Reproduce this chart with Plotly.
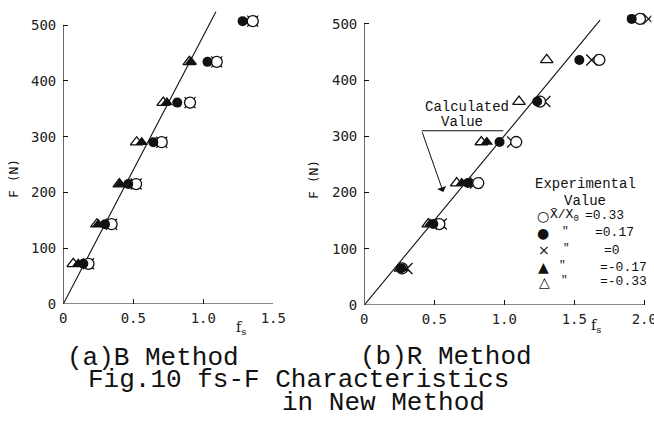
import plotly.graph_objects as go

# ---------------- data ----------------
# (a) B Method
F_B = [72, 143, 215, 290, 361, 434, 507]
B_p033 = [0.18, 0.345, 0.52, 0.703, 0.905, 1.096, 1.353]    # X/X0 = 0.33  (open circle)
B_p017 = [0.143, 0.298, 0.464, 0.643, 0.814, 1.03, 1.281]   # = 0.17  (filled circle)
B_zero = [0.18, 0.345, 0.52, 0.703, 0.905, 1.096, 1.353]    # = 0     (cross)
B_m017 = [0.107, 0.25, 0.405, 0.56, 0.74, 0.912, None]      # = -0.17 (filled triangle)
B_m033 = [0.071, 0.24, 0.40, 0.524, 0.714, 0.90, None]      # = -0.33 (open triangle)
B_calc_fs = [0, 1.09]
B_calc_F = [0, 524]

# (b) R Method
F_R = [65, 144, 217, 290, 362, 436, 509]
R_p033 = [0.27, 0.536, 0.814, 1.085, 1.255, 1.679, 1.969]
R_p017 = [0.262, 0.493, 0.74, 0.966, 1.235, 1.536, 1.91]
R_zero = [0.305, 0.55, 0.795, 1.06, 1.29, 1.624, 2.03]
R_m017 = [0.28, 0.47, 0.696, 0.875, None, None, None]
R_m033 = [0.258, 0.457, 0.66, 0.836, 1.105, 1.303, None]
R_calc_fs = [0, 1.684]
R_calc_F = [0, 507]

B_xticks = [0, 0.5, 1.0, 1.5]
B_xlabels = ["0", "0.5", "1.0", "1.5"]
R_xticks = [0, 0.5, 1.0, 1.5, 2.0]
R_xlabels = ["0", "0.5", "1.0", "1.5", "2.0"]
yticks = [0, 100, 200, 300, 400, 500]
ylabels = ["0", "100", "200", "300", "400", "500"]

legend_labels = ["=0.33", "=0.17", "=0", "=-0.17", "=-0.33"]

# ---------------- styles ----------------
INK = "#111111"
MONO = "Liberation Mono, DejaVu Sans Mono, monospace"
TICKF = "DejaVu Sans Mono, Liberation Mono, monospace"

# drawing order: open triangle, cross, open circle, filled triangle, filled circle
styles = [
    ("m033", dict(symbol="triangle-up-open", size=11, color=INK, line=dict(color=INK, width=1.3))),
    ("zero", dict(symbol="x-thin-open", size=11, color=INK, line=dict(color=INK, width=1.3))),
    ("p033", dict(symbol="circle", size=11, color="white", line=dict(color=INK, width=1.3))),
    ("m017", dict(symbol="triangle-up", size=11, color=INK, line=dict(width=0))),
    ("p017", dict(symbol="circle", size=10, color=INK, line=dict(width=0))),
]

fig = go.Figure()

B = dict(p033=B_p033, p017=B_p017, zero=B_zero, m017=B_m017, m033=B_m033)
R = dict(p033=R_p033, p017=R_p017, zero=R_zero, m017=R_m017, m033=R_m033)

# calculated lines
fig.add_trace(go.Scatter(x=B_calc_fs, y=B_calc_F, mode="lines",
                         line=dict(color=INK, width=1.1), xaxis="x", yaxis="y", hoverinfo="skip"))
fig.add_trace(go.Scatter(x=R_calc_fs, y=R_calc_F, mode="lines",
                         line=dict(color=INK, width=1.1), xaxis="x2", yaxis="y2", hoverinfo="skip"))

for key, mk in styles:
    fig.add_trace(go.Scatter(x=B[key], y=F_B, mode="markers", marker=mk,
                             xaxis="x", yaxis="y", name=key))
    fig.add_trace(go.Scatter(x=R[key], y=F_R, mode="markers", marker=mk,
                             xaxis="x2", yaxis="y2", name=key))

W, H = 654, 421


def px(x):
    return x / W


def py(y):
    return (H - y) / H


axis_common = dict(showgrid=False, zeroline=False, showline=False, ticks="inside",
                   ticklen=5, tickwidth=1, tickcolor=INK, automargin=False,
                   ticklabeloverflow="allow",
                   tickfont=dict(family=TICKF, size=14, color="#222"))

fig.update_layout(
    template="none",
    width=W, height=H, margin=dict(l=0, r=0, t=0, b=0, pad=0),
    paper_bgcolor="white", plot_bgcolor="white", showlegend=False,
    xaxis=dict(domain=[px(63.3), px(273.3)], range=[0, 1.5], anchor="y",
               tickvals=B_xticks, ticktext=B_xlabels, ticklabelstandoff=4, **axis_common),
    yaxis=dict(domain=[py(304), py(8.3)], range=[0, 530], anchor="x",
               tickvals=yticks, ticktext=ylabels, ticklabelstandoff=6, **axis_common),
    xaxis2=dict(domain=[px(364.3), px(651.3)], range=[0, 2.05], anchor="y2",
                tickvals=R_xticks, ticktext=R_xlabels, ticklabelstandoff=4, **axis_common),
    yaxis2=dict(domain=[py(305), py(7.1)], range=[0, 530], anchor="x2",
                tickvals=yticks, ticktext=ylabels, ticklabelstandoff=6, **axis_common),
)

ax_line = dict(color=INK, width=1.2)
shapes = [
    dict(type="line", xref="x", yref="y", x0=0, x1=0, y0=0, y1=500, line=ax_line),
    dict(type="line", xref="x", yref="y", x0=0, x1=1.5, y0=0, y1=0, line=ax_line),
    dict(type="line", xref="x2", yref="y2", x0=0, x1=0, y0=0, y1=500, line=ax_line),
    dict(type="line", xref="x2", yref="y2", x0=0, x1=2.0, y0=0, y1=0, line=ax_line),
    # "Calculated Value" underline
    dict(type="line", xref="x2", yref="y2", x0=0.41, x1=0.993, y0=310, y1=310,
         line=dict(color=INK, width=1)),
]
fig.update_layout(shapes=shapes)

ann = []


def text(x, y, s, size=14, anchor="center", family=MONO, angle=0):
    ann.append(dict(x=px(x), y=py(y), xref="paper", yref="paper", text=s, showarrow=False,
                    xanchor=anchor, yanchor="middle", textangle=angle,
                    font=dict(family=family, size=size, color=INK)))


# axis titles
text(13, 179, "F (N)", size=13, family=TICKF, angle=-90)
text(313, 180, "F (N)", size=13, family=TICKF, angle=-90)
text(241, 328, "f<sub>s</sub>", size=14, family="DejaVu Serif")
text(596, 326, "f<sub>s</sub>", size=14, family="DejaVu Serif")

# captions
text(153, 358, "(a)B Method", size=26)
text(446, 357, "(b)R Method", size=26)
text(298, 380, "Fig.10 fs-F Characteristics", size=26)
text(383, 403, "in New Method", size=26)

# Calculated value label + arrow
text(467, 107, "Calculated", size=14)
text(462, 122, "Value", size=14)
ann.append(dict(x=0.564, y=201, xref="x2", yref="y2", ax=0.41, ay=310, axref="x2", ayref="y2",
                text="", showarrow=True, arrowhead=1, arrowsize=1.6, arrowwidth=1,
                arrowcolor=INK))

# legend (experimental value)
text(585, 184, "Experimental", size=14)
text(585, 201, "Value", size=14)
rows_y = [215.5, 232.7, 250, 267, 281.5]
symbols = ["○", "●", "×", "▲", "△"]
sym_x = [543, 543, 544, 543, 544]
ditto_x = [None, 565, 566, 562, 564]
val_x = [583, 593, 602, 598, 598]
for i in range(5):
    text(sym_x[i], rows_y[i], symbols[i], size=14, family="DejaVu Sans")
    if ditto_x[i] is not None:
        text(ditto_x[i], rows_y[i] - 2, '"', size=11)
    text(val_x[i], rows_y[i], legend_labels[i], size=13, anchor="left")
text(548, 215.5, "X\u0304/X<sub>0</sub>", size=13, anchor="left")

fig.update_layout(annotations=ann)

fig.write_html("out.html", config={"displayModeBar": False},
               post_script="document.body.style.margin='0';")
